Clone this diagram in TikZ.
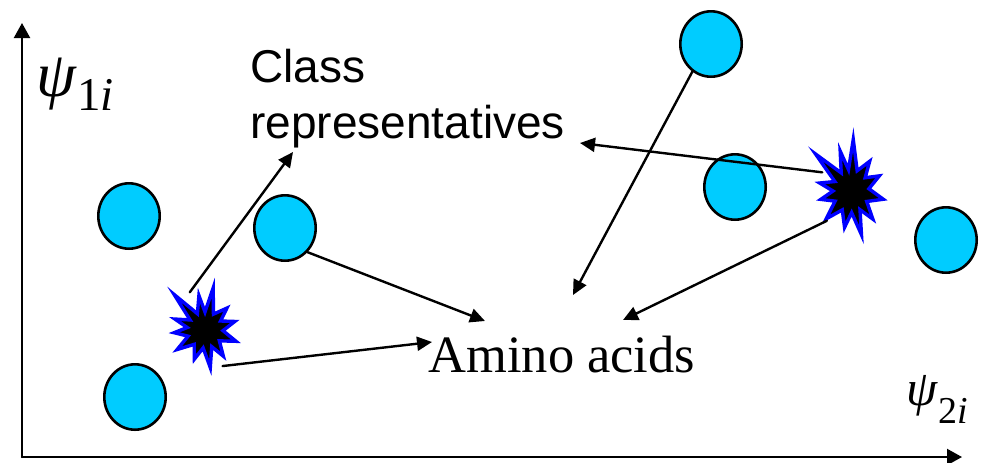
\documentclass[tikz,border=0pt]{standalone}
\usepackage{fontspec}
\setmainfont{Liberation Serif}
\newfontfamily\repfont{Liberation Sans}
\usetikzlibrary{arrows.meta,shapes.geometric}
\definecolor{dotcyan}{RGB}{0,204,255}
\definecolor{boomblue}{RGB}{0,0,255}
\begin{document}
\begin{tikzpicture}[x=0.5pt,y=-0.5pt,line cap=round,
  dot/.style={ellipse,draw,line width=1.3pt,fill=dotcyan,minimum width=30.7pt,minimum height=32.7pt,inner sep=0pt},
  hit/.style={ellipse,minimum width=33pt,minimum height=42pt,inner sep=0pt},
  boom/.style={fill=black,draw=boomblue,line width=1.7pt,line join=miter},
  arr/.style={-{Triangle[length=7.5pt,width=7pt]},line width=1.2pt},
  axis/.style={-{Triangle[length=7.5pt,width=8pt]},line width=1.1pt}]
\useasboundingbox (0,0) rectangle (990,462);
% axes
\coordinate (o) at (22,457);
\coordinate (ytop) at (22,23);
\coordinate (xend) at (962,457);
\draw[axis] (o) -- (ytop);
\draw[axis] (o) -- (xend);
% axis labels
\node[anchor=base west,inner sep=0pt] (psi1) at (36,96)
  {\fontsize{32}{36}\selectfont\textit{ψ}\raisebox{-7pt}{\fontsize{23.5}{28}\selectfont 1\textit{i}}};
\node[anchor=base west,inner sep=0pt] (psi2) at (906,405)
  {\fontsize{25}{30}\selectfont\textit{ψ}\raisebox{-9pt}{\fontsize{19}{23}\selectfont 2\textit{i}}};
% texts
\node[anchor=base west,inner sep=0pt,align=left,font=\repfont\fontsize{23}{28}\selectfont] (rep) at (250,138) {Class\\representatives};
\node[anchor=base west,inner sep=0pt,font=\fontsize{26.25}{30}\selectfont] (amino) at (428,372) {Amino acids};
% amino acids
\node[dot] (c1) at (129,216) {};
\node[dot] (c2) at (285,228) {};
\node[dot] (c3) at (135,397) {};
\node[dot] (c4) at (711,44) {};
\node[dot] (c5) at (735,187) {};
\node[dot] (c6) at (946,240) {};
% class representatives
\node[hit] (s1) at (205,330) {};
\node[hit,minimum width=31pt,minimum height=46pt] (s2) at (851,191) {};
\foreach \s/\k/\r in {s1/1/0, s2/1.2/8}{
  \begin{scope}[shift={(\s)},yscale=\k,rotate=\r]
    \draw[boom] (-131:47) -- (-115:18) -- (-100:35) -- (-90:18) -- (-79:43) -- (-62:18)
      -- (-45:31) -- (-30:18) -- (-16:31) -- (2:18) -- (20:33) -- (37:18) -- (55:32)
      -- (68:18) -- (82:38) -- (96:18) -- (110:31) -- (127:18) -- (145:34) -- (160:18)
      -- (175:31) -- (-172:18) -- (-160:32) -- (-146:18) -- cycle;
  \end{scope}
}
% arrows
\coordinate (t1) at (293,152);
\coordinate (t2) at (580,143);
\coordinate (t3) at (485,321);
\coordinate (t4) at (432,342);
\coordinate (t5) at (573,295);
\coordinate (t6) at (623,320);
\draw[arr] (s1.112) -- (t1);
\draw[arr] (s1.-64) -- (t4);
\draw[arr] (c2.-47) -- (t3);
\draw[arr] (c4.-124) -- (t5);
\draw[arr] (s2.147) -- (t2);
\draw[arr] (s2.-129) -- (t6);
\end{tikzpicture}
\end{document}
